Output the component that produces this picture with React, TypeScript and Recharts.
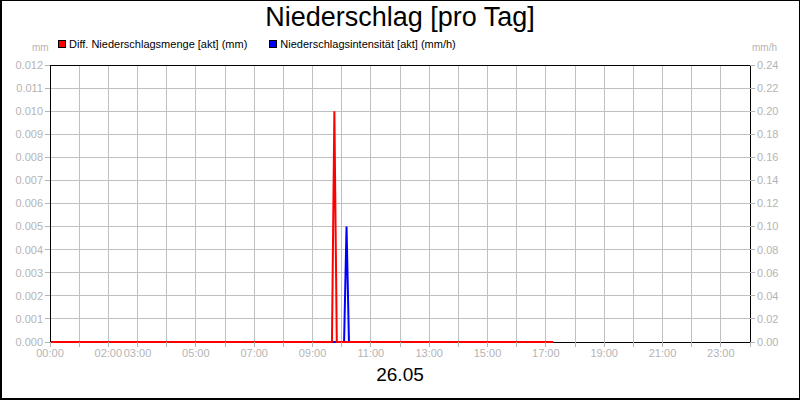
import { CartesianGrid, Line, LineChart, ReferenceLine, XAxis, YAxis } from "recharts";

// Stunden seit 00:00 (5-Minuten-Raster um die Spitzen)
const times = [0, 9.667, 9.75, 9.833, 10.083, 10.167, 10.25, 17.25];
const mengeMm = [0, 0, 0.01, 0, 0, 0, 0, 0];
const intensitaetMmH = [0, 0, 0, 0, 0, 0.1, 0, 0];

const hourTicks = [0, 1, 2, 3, 4, 5, 6, 7, 8, 9, 10, 11, 12, 13, 14, 15, 16, 17, 18, 19, 20, 21, 22, 23, 24];
const labeledHours = [0, 2, 3, 5, 7, 9, 11, 13, 15, 17, 19, 21, 23];
const leftTicks = [0, 0.001, 0.002, 0.003, 0.004, 0.005, 0.006, 0.007, 0.008, 0.009, 0.01, 0.011, 0.012];
const rightTicks = [0, 0.02, 0.04, 0.06, 0.08, 0.1, 0.12, 0.14, 0.16, 0.18, 0.2, 0.22, 0.24];

const data = times.map((t, i) => ({ t, menge: mengeMm[i], intens: intensitaetMmH[i] }));

const FONT = "Arial, 'Liberation Sans', sans-serif";
const GRAY = "#b4b4b4";
const tickStyle = { fill: GRAY, fontSize: 11, fontFamily: FONT };

const hourLabel = (h: number) => (labeledHours.includes(h) ? `${String(h).padStart(2, "0")}:00` : "");
const lastTime = times[times.length - 1];

export default function App() {
  return (
    <div style={{ position: "absolute", left: 0, top: 0, width: 800, height: 400, background: "#fff", fontFamily: FONT }}>
      <style>{`.nd-chart line { shape-rendering: crispEdges; }`}</style>
      <LineChart className="nd-chart" width={800} height={400} data={data} margin={{ top: 65, right: 0, bottom: 28, left: 0 }}>
        <CartesianGrid stroke="#c0c0c0" yAxisId="left" />
        <XAxis
          dataKey="t"
          type="number"
          domain={[0, 24]}
          ticks={hourTicks}
          interval={0}
          tickFormatter={hourLabel}
          height={30}
          tickSize={5}
          tick={tickStyle}
          axisLine={false}
          tickLine={{ stroke: GRAY }}
        />
        <YAxis
          yAxisId="left"
          orientation="left"
          width={50}
          domain={[0, 0.012]}
          ticks={leftTicks}
          interval={0}
          tickFormatter={(v: number) => v.toFixed(3)}
          tickSize={5}
          tick={tickStyle}
          axisLine={{ stroke: "#000" }}
          tickLine={{ stroke: GRAY }}
        />
        <YAxis
          yAxisId="right"
          orientation="right"
          width={50}
          domain={[0, 0.24]}
          ticks={rightTicks}
          interval={0}
          tickFormatter={(v: number) => v.toFixed(2)}
          tickSize={5}
          tick={tickStyle}
          axisLine={{ stroke: "#000" }}
          tickLine={{ stroke: GRAY }}
        />
        <ReferenceLine yAxisId="left" y={0.012} stroke="#000" />
        <ReferenceLine
          yAxisId="left"
          segment={[
            { x: lastTime, y: 0 },
            { x: 24, y: 0 },
          ]}
          stroke="#000"
        />
        <Line
          yAxisId="right"
          type="linear"
          dataKey="intens"
          stroke="#0000ff"
          strokeWidth={2}
          dot={false}
          isAnimationActive={false}
        />
        <Line
          yAxisId="left"
          type="linear"
          dataKey="menge"
          stroke="#ff0000"
          strokeWidth={2}
          dot={false}
          isAnimationActive={false}
        />
      </LineChart>

      <div style={{ position: "absolute", left: 0, top: 2, width: 800, textAlign: "center", fontSize: 27, color: "#000" }}>
        Niederschlag [pro Tag]
      </div>
      <div style={{ position: "absolute", left: 0, top: 364, width: 800, textAlign: "center", fontSize: 19, color: "#000" }}>
        26.05
      </div>
      <div style={{ position: "absolute", left: 32, top: 42, fontSize: 10, color: GRAY }}>mm</div>
      <div style={{ position: "absolute", left: 752, top: 42, fontSize: 10, color: GRAY }}>mm/h</div>

      <div style={{ position: "absolute", left: 58, top: 38, fontSize: 11, color: "#000", display: "flex", alignItems: "center", whiteSpace: "nowrap" }}>
        <span style={{ display: "inline-block", width: 6, height: 6, background: "#ff0000", border: "1px solid #000", marginRight: 3 }} />
        Diff. Niederschlagsmenge [akt] (mm)
        <span style={{ display: "inline-block", width: 6, height: 6, background: "#0000ff", border: "1px solid #000", marginLeft: 22, marginRight: 3 }} />
        Niederschlagsintensität [akt] (mm/h)
      </div>

      <div
        style={{
          position: "absolute",
          left: 0,
          top: 0,
          width: 800,
          height: 400,
          boxSizing: "border-box",
          borderTop: "1px solid #000",
          borderRight: "1px solid #000",
          borderLeft: "2px solid #000",
          borderBottom: "2px solid #000",
          pointerEvents: "none",
        }}
      />
    </div>
  );
}
